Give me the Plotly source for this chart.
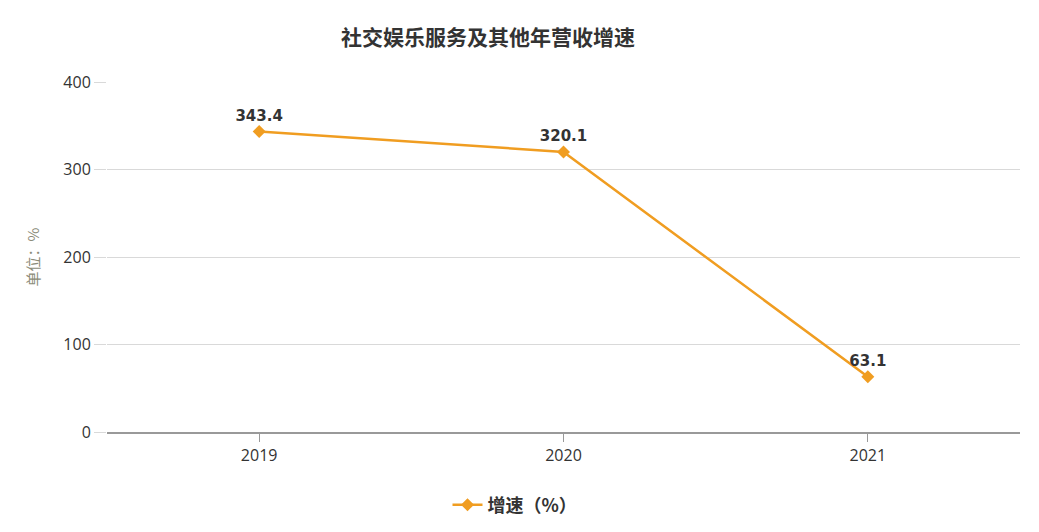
import plotly.graph_objects as go

years = ["2019", "2020", "2021"]
growth = [343.4, 320.1, 63.1]
y_ticks = [0, 100, 200, 300, 400]

orange = "#F09D21"
cjk = "Noto Sans CJK SC"

# the page adds an 8px body margin, so the figure is drawn a bit smaller
W, H = 1031, 524

fig = go.Figure()
fig.add_trace(go.Scatter(
    x=years,
    y=growth,
    mode="lines+markers+text",
    name="增速（%）",
    line=dict(color=orange, width=2.5),
    marker=dict(symbol="diamond", size=10, color=orange),
    text=[f"{v:.1f}" for v in growth],
    textposition="top center",
    textfont=dict(family="DejaVu Sans", size=15, color="#333333", weight="bold"),
    cliponaxis=False,
))

fig.update_layout(
    width=W,
    height=H,
    margin=dict(l=99, r=19, t=74, b=100),
    paper_bgcolor="white",
    plot_bgcolor="white",
    font=dict(family=cjk, color="#333333"),
    title=dict(
        text="<b>社交娱乐服务及其他年营收增速</b>",
        x=480 / W, xanchor="center", xref="container",
        y=1 - 30 / H, yanchor="middle", yref="container",
        font=dict(family=cjk, size=21, color="#333333"),
    ),
    xaxis=dict(
        type="category",
        range=[-0.5, 2.5],
        showgrid=False,
        showline=True,
        linecolor="#999999",
        linewidth=1.5,
        ticks="outside",
        ticklen=8,
        tickcolor="#999999",
        tickfont=dict(family="Open Sans", size=16, color="#333333"),
        zeroline=False,
    ),
    yaxis=dict(
        range=[0, 400],
        tickvals=y_ticks,
        showgrid=True,
        gridcolor="#d9d9d9",
        gridwidth=1,
        zeroline=False,
        ticks="outside",
        ticklen=12,
        tickcolor="#d9d9d9",
        tickfont=dict(family="Open Sans", size=16, color="#333333"),
        title=dict(text="单位：%", font=dict(family=cjk, size=15, color="#8c8c7a"), standoff=20),
    ),
    legend=dict(
        orientation="h",
        x=507 / W, xanchor="center", xref="container",
        y=1 - 497 / H, yanchor="middle", yref="container",
        font=dict(family=cjk, size=18, color="#333333", weight="bold"),
    ),
    showlegend=True,
)

fig.write_html("out.html")
